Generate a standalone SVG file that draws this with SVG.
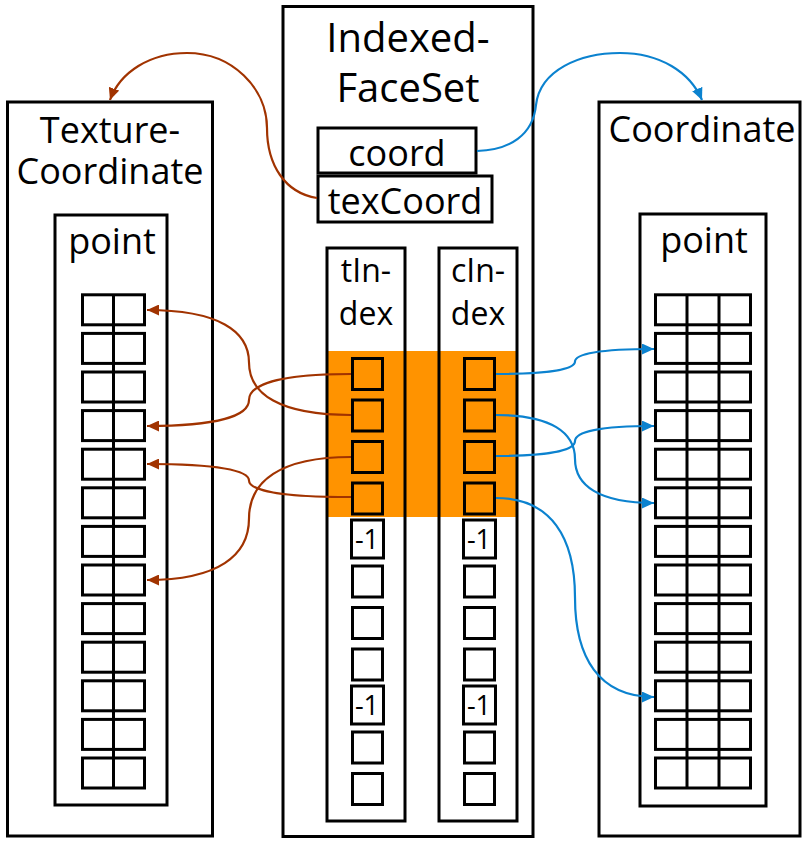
<svg xmlns="http://www.w3.org/2000/svg" width="803" height="841" viewBox="0 0 803 841">
<style>
.box{fill:#fff;stroke:#000;stroke-width:3}
.ol{fill:none;stroke:#000;stroke-width:3}
.cell{fill:#fff;stroke:#000;stroke-width:3}
.ocell{fill:none;stroke:#000;stroke-width:3}
.t{font-family:"Open Sans","Noto Sans","DejaVu Sans",sans-serif;fill:#000;text-anchor:middle}
.big{font-size:40px}
.mid{font-size:36px}
.sm{font-size:32px}
.one{font-size:27px}
.br{fill:none;stroke:#A13300;stroke-width:2.2;marker-end:url(#ab)}
.bl{fill:none;stroke:#0B82CF;stroke-width:2.2;marker-end:url(#au)}
</style>
<defs>
<marker id="ab" markerUnits="userSpaceOnUse" markerWidth="13" markerHeight="11" refX="12" refY="5.5" orient="auto"><path d="M0,0 L12,5.5 L0,11 Z" fill="#A13300"/></marker>
<marker id="au" markerUnits="userSpaceOnUse" markerWidth="13" markerHeight="11" refX="12" refY="5.5" orient="auto"><path d="M0,0 L12,5.5 L0,11 Z" fill="#0B82CF"/></marker>
</defs>
<rect width="803" height="841" fill="#fff"/>

<g id="TextureCoordinate">
<rect class="box" x="7.5" y="102" width="205" height="734"/>
<text class="t mid" x="110" y="143">Texture-</text>
<text class="t mid" x="110" y="184">Coordinate</text>
<g id="tc-point">
<rect class="box" x="55" y="215" width="112" height="590"/>
<text class="t mid" x="112" y="254">point</text>
<g id="tc-cells">
<rect class="cell" x="82.5" y="294.8" width="62" height="30"/>
<rect class="cell" x="82.5" y="333.4" width="62" height="30"/>
<rect class="cell" x="82.5" y="372" width="62" height="30"/>
<rect class="cell" x="82.5" y="410.6" width="62" height="30"/>
<rect class="cell" x="82.5" y="449.2" width="62" height="30"/>
<rect class="cell" x="82.5" y="487.8" width="62" height="30"/>
<rect class="cell" x="82.5" y="526.4" width="62" height="30"/>
<rect class="cell" x="82.5" y="565" width="62" height="30"/>
<rect class="cell" x="82.5" y="603.6" width="62" height="30"/>
<rect class="cell" x="82.5" y="642.2" width="62" height="30"/>
<rect class="cell" x="82.5" y="680.8" width="62" height="30"/>
<rect class="cell" x="82.5" y="719.4" width="62" height="30"/>
<rect class="cell" x="82.5" y="758" width="62" height="30"/>
<path d="M113.5,294.8 V788" stroke="#000" stroke-width="3" fill="none"/>
</g>
</g>
</g>

<g id="Coordinate">
<rect class="box" x="599" y="102" width="201" height="734"/>
<text class="t mid" x="702" y="142">Coordinate</text>
<g id="c-point">
<rect class="box" x="640" y="214" width="126" height="592"/>
<text class="t mid" x="704" y="253">point</text>
<g id="c-cells">
<rect class="cell" x="655.5" y="294.8" width="95" height="30"/>
<rect class="cell" x="655.5" y="333.4" width="95" height="30"/>
<rect class="cell" x="655.5" y="372" width="95" height="30"/>
<rect class="cell" x="655.5" y="410.6" width="95" height="30"/>
<rect class="cell" x="655.5" y="449.2" width="95" height="30"/>
<rect class="cell" x="655.5" y="487.8" width="95" height="30"/>
<rect class="cell" x="655.5" y="526.4" width="95" height="30"/>
<rect class="cell" x="655.5" y="565" width="95" height="30"/>
<rect class="cell" x="655.5" y="603.6" width="95" height="30"/>
<rect class="cell" x="655.5" y="642.2" width="95" height="30"/>
<rect class="cell" x="655.5" y="680.8" width="95" height="30"/>
<rect class="cell" x="655.5" y="719.4" width="95" height="30"/>
<rect class="cell" x="655.5" y="758" width="95" height="30"/>
<path d="M687,294.8 V788 M719,294.8 V788" stroke="#000" stroke-width="3" fill="none"/>
</g>
</g>
</g>

<g id="IndexedFaceSet">
<rect class="box" x="283" y="6.5" width="250" height="830"/>
<text class="t big" x="408" y="52">Indexed-</text>
<text class="t big" x="408" y="102">FaceSet</text>
<g id="coord">
<rect class="box" x="318" y="128" width="158" height="45"/>
<text class="t mid" x="397" y="166">coord</text>
</g>
<g id="texCoord">
<rect class="box" x="318" y="176" width="174" height="46"/>
<text class="t mid" x="405" y="214">texCoord</text>
</g>
<rect x="327" y="351" width="190" height="166" fill="#FF9300"/>
<g id="tIndex">
<rect class="ol" x="327" y="248" width="78" height="573"/>
<text class="t sm" x="366" y="282">tIn-</text>
<text class="t sm" x="366" y="325">dex</text>
<rect class="ocell" x="352.5" y="358.5" width="30" height="31"/>
<rect class="ocell" x="352.5" y="400" width="30" height="31"/>
<rect class="ocell" x="352.5" y="441.5" width="30" height="31"/>
<rect class="ocell" x="352.5" y="483" width="30" height="31"/>
<rect class="cell" x="351.5" y="520" width="32" height="38" stroke-width="2.5"/>
<text class="t one" x="367" y="549">-1</text>
<rect class="cell" x="352.5" y="566" width="30" height="31"/>
<rect class="cell" x="352.5" y="607.5" width="30" height="31"/>
<rect class="cell" x="352.5" y="649" width="30" height="31"/>
<rect class="cell" x="351.5" y="686" width="32" height="38" stroke-width="2.5"/>
<text class="t one" x="367" y="715">-1</text>
<rect class="cell" x="352.5" y="732" width="30" height="31"/>
<rect class="cell" x="352.5" y="773.5" width="30" height="31"/>
</g>
<g id="cIndex">
<rect class="ol" x="439" y="248" width="78" height="573"/>
<text class="t sm" x="478" y="282">cIn-</text>
<text class="t sm" x="478" y="325">dex</text>
<rect class="ocell" x="464.5" y="358.5" width="30" height="31"/>
<rect class="ocell" x="464.5" y="400" width="30" height="31"/>
<rect class="ocell" x="464.5" y="441.5" width="30" height="31"/>
<rect class="ocell" x="464.5" y="483" width="30" height="31"/>
<rect class="cell" x="463.5" y="520" width="32" height="38" stroke-width="2.5"/>
<text class="t one" x="479" y="549">-1</text>
<rect class="cell" x="464.5" y="566" width="30" height="31"/>
<rect class="cell" x="464.5" y="607.5" width="30" height="31"/>
<rect class="cell" x="464.5" y="649" width="30" height="31"/>
<rect class="cell" x="463.5" y="686" width="32" height="38" stroke-width="2.5"/>
<text class="t one" x="479" y="715">-1</text>
<rect class="cell" x="464.5" y="732" width="30" height="31"/>
<rect class="cell" x="464.5" y="773.5" width="30" height="31"/>
</g>
</g>

<g id="connectors">
<path class="br" d="M317,198 C285,193 267,165 267,128 C267,88 232,53 187,53 C150,53 120,72 110,100"/>
<path class="bl" d="M477,151 C510,150 533,135 536,105 C540,70 580,53 620,53 C660,53 690,72 702,100"/>
<path class="br" d="M351,415 C279.6,415 249,394 249,362.5 C249,331 218.4,310 147,310"/>
<path class="br" d="M351,374 C279.6,374 249,384.4 249,400 C249,415.6 218.4,426 147,426"/>
<path class="br" d="M351,497 C279.6,497 249,490.4 249,480.5 C249,470.6 218.4,464 147,464"/>
<path class="br" d="M351,457 C279.6,457 249,481.6 249,518.5 C249,555.4 218.4,580 147,580"/>
<path class="bl" d="M496,374 C551.3,374 575,369 575,361.5 C575,354 598.7,349 654,349"/>
<path class="bl" d="M496,415 C551.3,415 575,432.6 575,459 C575,485.4 598.7,503 654,503"/>
<path class="bl" d="M496,456 C551.3,456 575,450 575,441 C575,432 598.7,426 654,426"/>
<path class="bl" d="M496,498 C551.3,498 575,537.8 575,597.5 C575,657.2 598.7,697 654,697"/>
</g>
</svg>
